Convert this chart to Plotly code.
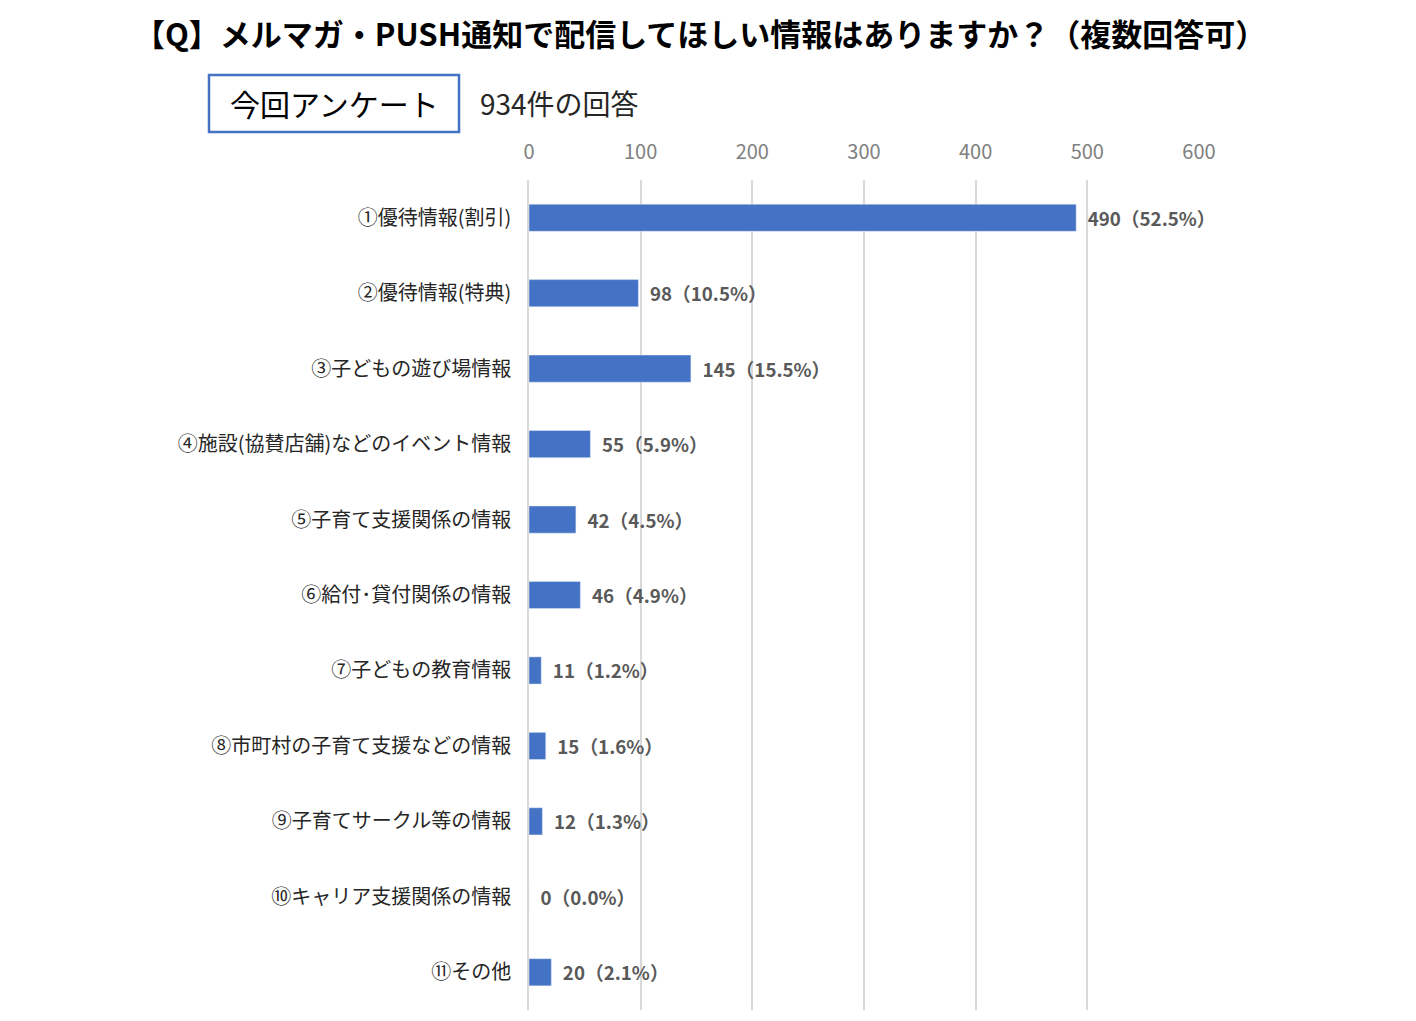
import plotly.graph_objects as go

categories = ["①優待情報(割引)", "②優待情報(特典)", "③子どもの遊び場情報", "④施設(協賛店舗)などのイベント情報",
              "⑤子育て支援関係の情報", "⑥給付･貸付関係の情報", "⑦子どもの教育情報", "⑧市町村の子育て支援などの情報",
              "⑨子育てサークル等の情報", "⑩キャリア支援関係の情報", "⑪その他"]
counts = [490, 98, 145, 55, 42, 46, 11, 15, 12, 0, 20]
percents = ["52.5%", "10.5%", "15.5%", "5.9%", "4.5%", "4.9%", "1.2%", "1.6%", "1.3%", "0.0%", "2.1%"]
ticks = [0, 100, 200, 300, 400, 500, 600]

font = "Noto Sans CJK JP"
labels = [f"  {c}（{p}）" for c, p in zip(counts, percents)]

def px(x):
    return (x - 529) / 670

def py(y):
    return (1010 - y) / 830

fig = go.Figure(go.Bar(
    x=counts, y=categories, orientation="h", marker_color="#4472C4",
    text=labels, textposition="outside", cliponaxis=False,
    textfont=dict(family=font, size=20, color="#595959"),
))
fig.update_traces(texttemplate="<b>%{text}</b>")
fig.update_layout(
    width=1416, height=1021, plot_bgcolor="white", paper_bgcolor="white",
    margin=dict(l=521, r=225, t=172, b=19), bargap=0.64, showlegend=False,
    font=dict(family=font),
    xaxis=dict(range=[0, 600], tickvals=ticks, side="top", showgrid=True, gridcolor="#D9D9D9",
               gridwidth=1.5, zeroline=False, tickfont=dict(size=20, color="#808080"), ticks="",
               ticklabelstandoff=16),
    yaxis=dict(autorange="reversed", tickfont=dict(size=20, color="#262626"), showline=True,
               linecolor="#D9D9D9", linewidth=1.5, ticks="", ticklabelstandoff=12),
    annotations=[
        dict(text="<b>【Q】メルマガ・PUSH通知で配信してほしい情報はありますか？（複数回答可）</b>", x=px(700), y=py(33),
             xref="paper", yref="paper", xanchor="center", yanchor="middle", showarrow=False,
             font=dict(size=31, color="#000000", family=font)),
        dict(text="今回アンケート", x=px(334), y=py(103), xref="paper", yref="paper", showarrow=False,
             xanchor="center", yanchor="middle", font=dict(size=30, color="#000000", family=font)),
        dict(text="934件の回答", x=px(478), y=py(103), xref="paper", yref="paper", showarrow=False,
             xanchor="left", yanchor="middle", font=dict(size=28, color="#262626", family=font)),
    ],
    shapes=[dict(type="rect", xref="paper", yref="paper", x0=px(209), x1=px(459),
                 y0=py(132), y1=py(75), line=dict(color="#4472C4", width=2.5))],
)
fig.write_html("out.html")
